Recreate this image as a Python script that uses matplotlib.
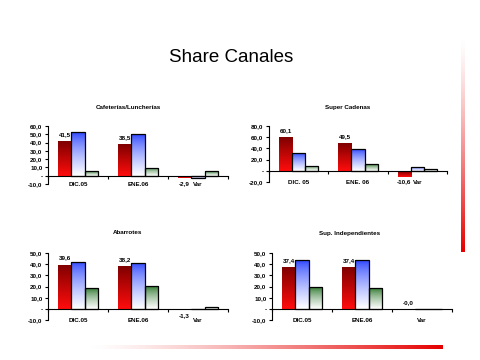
import numpy as np
import matplotlib
matplotlib.use("Agg")
import matplotlib.pyplot as plt
from matplotlib.ticker import FuncFormatter, FixedLocator

plt.rcParams['font.family'] = ['Liberation Sans', 'DejaVu Sans']

# ---- data ----
main_title = "Share Canales"
titles = ["Cafeterías/Luncherías", "Super Cadenas", "Abarrotes", "Sup. Independientes"]
cats_a = ["DIC.05", "ENE.06", "Var"]
cats_b = ["DIC. 05", "ENE. 06", "Var"]

caf_red = [41.5, 38.5, -2.9]
caf_blue = [52.2, 49.8, -2.2]
caf_green = [5.1, 9.8, 5.1]

sup_red = [60.1, 49.5, -10.6]
sup_blue = [32.0, 39.0, 7.6]
sup_green = [9.4, 12.0, 4.0]

aba_red = [39.6, 38.2, -1.3]
aba_blue = [42.3, 41.4, 0.0]
aba_green = [18.8, 20.2, 1.8]

ind_red = [37.4, 37.4, -0.01]
ind_blue = [43.8, 43.8, 0.0]
ind_green = [19.6, 18.8, 0.0]

ylims = [(-10, 60, 10), (-20, 80, 20), (-10, 50, 10), (-10, 50, 10)]

W, H = 480, 360
fig = plt.figure(figsize=(4.8, 3.6), dpi=100)
fig.patch.set_facecolor('white')

def px_axes(l, r, t, b):
    return fig.add_axes([l / W, 1 - b / H, (r - l) / W, (b - t) / H])

RED_TOP = np.array([0.50, 0.0, 0.0]); RED_BOT = np.array([1.0, 0.05, 0.05])
BLU_TOP = np.array([0.15, 0.25, 1.0]); BLU_BOT = np.array([1.0, 1.0, 1.0])
GRN_TOP = np.array([0.15, 0.45, 0.15]); GRN_BOT = np.array([1.0, 1.0, 1.0])

def grad_fill(ax, rect, ctop, cbot, gamma=1.0):
    x0, y0 = rect.get_x(), rect.get_y()
    w, h = rect.get_width(), rect.get_height()
    if h == 0:
        return
    n = 64
    t = (np.linspace(0, 1, n) ** gamma)[:, None, None]
    img = ctop[None, None, :] * (1 - t) + cbot[None, None, :] * t
    im = ax.imshow(img, extent=(x0, x0 + w, min(y0, y0 + h), max(y0, y0 + h)),
                   origin='upper', aspect='auto', interpolation='bilinear', zorder=2)
    im.set_clip_path(rect)

def fmt(v):
    return f"{v:.1f}".replace('.', ',')

def ytick_fmt(v, pos):
    if abs(v) < 1e-9:
        return "-"
    return f"{v:.1f}".replace('.', ',')

def panel(ax, cats, red, blue, green, ylim, label_pad):
    lo, hi, step = ylim
    x = np.arange(len(cats)) + 0.5
    bw = 0.222
    rb = ax.bar(x - bw, red, bw, color='none', edgecolor='none', zorder=3)
    bb = ax.bar(x, blue, bw, color='none', edgecolor='black', linewidth=0.9, zorder=3)
    gb = ax.bar(x + bw, green, bw, color='none', edgecolor='black', linewidth=0.9, zorder=3)
    for r in rb:
        grad_fill(ax, r, RED_TOP, RED_BOT)
    for r in bb:
        grad_fill(ax, r, BLU_TOP, BLU_BOT, 0.7)
    for r in gb:
        grad_fill(ax, r, GRN_TOP, GRN_BOT, 0.7)
    for r, v in zip(rb, red):
        cx = r.get_x() + r.get_width() / 2
        if v < -0.5:
            ax.annotate(fmt(v), (cx, v), xytext=(0, -2), textcoords='offset points',
                        ha='center', va='top', fontsize=4.5, fontweight='bold')
        else:
            ax.annotate(fmt(v), (cx, max(v, 0)), xytext=(0, 3), textcoords='offset points',
                        ha='center', va='bottom', fontsize=4.5, fontweight='bold')
    ax.set_xlim(0, len(cats))
    ax.set_ylim(lo, hi)
    ax.set_yticks(np.arange(lo, hi + step / 2, step))
    ax.yaxis.set_major_formatter(FuncFormatter(ytick_fmt))
    ax.tick_params(axis='y', labelsize=4.5, length=2.5, width=0.8, pad=1.5)
    for lbl in ax.get_yticklabels():
        lbl.set_fontweight('bold')
    for s in ['top', 'right']:
        ax.spines[s].set_visible(False)
    ax.spines['left'].set_linewidth(0.8)
    ax.spines['bottom'].set_position(('data', 0))
    ax.spines['bottom'].set_linewidth(0.8)
    ax.xaxis.set_major_locator(FixedLocator(np.arange(len(cats) + 1)))
    ax.xaxis.set_major_formatter(FuncFormatter(lambda v, p: ""))
    ax.tick_params(axis='x', length=2.5, width=0.8, direction='out')
    sec = ax.secondary_xaxis('bottom')
    sec.spines['bottom'].set_visible(False)
    sec.set_xticks(x)
    sec.set_xticklabels(cats, fontsize=4.5, fontweight='bold')
    sec.tick_params(length=0, pad=label_pad)
    for lbl in sec.get_xticklabels():
        lbl.set_va('center')
    ax.set_facecolor('none')

ax1 = px_axes(48, 228, 126, 184)
panel(ax1, cats_a, caf_red, caf_blue, caf_green, ylims[0], 0)
ax2 = px_axes(269, 447, 126, 182)
panel(ax2, cats_b, sup_red, sup_blue, sup_green, ylims[1], 0)
ax3 = px_axes(48, 228, 253, 320)
panel(ax3, cats_a, aba_red, aba_blue, aba_green, ylims[2], 0)
ax4 = px_axes(272, 452, 253, 320)
panel(ax4, cats_a, ind_red, ind_blue, ind_green, ylims[3], 0)

# titles
fig.text(231 / W, 1 - 57 / H, main_title, ha='center', va='center', fontsize=13.5)
tpos = [(128, 107), (348, 107), (128, 233), (350, 234)]
for (tx, ty), t in zip(tpos, titles):
    fig.text(tx / W, 1 - ty / H, t, ha='center', va='center', fontsize=4.5, fontweight='bold')

# decorative gradient strips
n = 128
tt = np.linspace(0, 1, n) ** 1.3
red = np.array([0.9, 0.0, 0.0])
white = np.array([1.0, 1.0, 1.0])
vimg = (white[None, None, :] * (1 - tt[:, None, None]) + red[None, None, :] * tt[:, None, None])
axv = px_axes(460.5, 464, 38, 252)
axv.imshow(vimg, aspect='auto', interpolation='bilinear')
axv.axis('off')
himg = (white[None, None, :] * (1 - tt[None, :, None]) + red[None, None, :] * tt[None, :, None])
axh = px_axes(90, 443, 345, 349)
axh.imshow(himg, aspect='auto', interpolation='bilinear')
axh.axis('off')

fig.savefig("out.png", dpi=100)
